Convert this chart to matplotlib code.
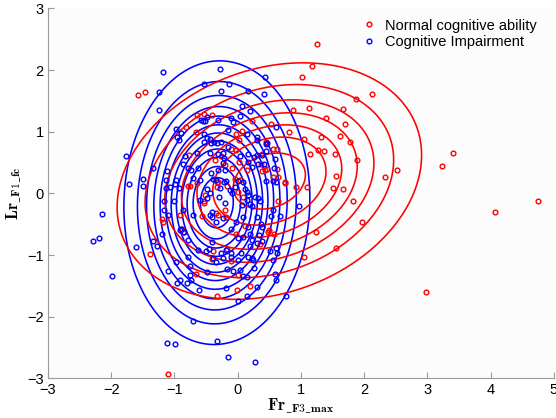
import numpy as np
import matplotlib
matplotlib.use("Agg")
import matplotlib.pyplot as plt

plt.rcParams["font.family"] = ["Liberation Sans", "DejaVu Sans"]
plt.rcParams["mathtext.fontset"] = "cm"

# scatter points
red_x = [-1.58, -1.46, 1.25, 1.17, 1.01, 2.13, 1.87, 1.66, 1.13, 0.87, 1.39, 1.70, 0.81, 1.32,
         1.62, 1.04, 1.77, 1.27, 1.36, 1.53, 1.15, 1.89, 3.41, 3.23, 2.52, 2.33, 1.55, 0.75,
         0.92, 1.10, 1.51, 1.67, 1.83, 4.74, 0.64, 0.64, 0.62, 4.06, 1.97, 1.24, 1.55, 1.04,
         2.98, 0.48, 0.57, 0.35, 0.11, -0.03, -0.17, -0.11, 0.00, 0.20, -0.01, -0.33, -0.31,
         -0.18, -0.20, -1.19, -1.18, -0.92, -0.87, -0.88, -1.38, -0.66, -0.56, -0.53, -0.34,
         -0.39, -0.41, -1.11, 0.23, 0.53, 0.06, -0.02, 0.02, -0.11, -0.03, 0.55, 0.38, -0.27,
         -0.20, 0.02, -0.09, -0.36, 0.38, 0.43, 0.46, 0.62, 0.55, 0.74, -0.05, 0.03, -0.17,
         -0.31, 0.00, 0.09, 0.36, -0.65, -0.54, -0.41, -0.82, -0.66, -0.77, -0.79, -0.75,
         -0.65, -0.51, -0.33, -0.32, -0.54, 0.50, 0.14, 0.45]
red_y = [1.60, 1.64, 2.43, 2.06, 1.89, 1.61, 1.53, 1.37, 1.39, 1.35, 1.23, 1.13, 1.00, 0.91,
         0.93, 0.89, 0.83, 0.71, 0.69, 0.64, 0.64, 0.55, 0.65, 0.45, 0.38, 0.26, 0.29, 0.18,
         0.11, 0.10, 0.09, 0.07, -0.13, -0.13, -0.13, 0.26, 0.72, -0.30, -0.46, -0.63, -0.88,
         -1.03, -1.60, -0.63, -0.66, -0.82, -0.52, -0.66, -0.90, -1.10, -1.32, -1.50, -1.57,
         -1.66, -0.35, -0.38, -0.27, -0.42, -0.47, -0.35, -0.63, -0.58, -0.98, -1.30, -0.37,
         -0.13, -0.32, -0.94, -1.06, -2.93, 1.17, 1.12, 1.01, 0.97, 0.87, 0.72, 0.70, 0.72,
         0.64, 0.60, 0.46, 0.51, 0.41, 0.54, 0.37, 0.38, 0.39, 0.40, 0.27, 0.17, 0.24, 0.22,
         0.12, 0.19, 0.03, -0.05, 0.48, 1.27, 1.28, 1.27, 1.08, 0.99, 0.62, 0.12, 0.12, 0.17,
         -0.03, 0.18, 0.11, -0.16, -0.60, 0.38, 0.83]

blue_x = [-1.18, -1.24, -1.25, -0.28, -0.26, -0.53, -0.14, 0.16, 0.43, 0.42, 0.19, 0.07, 0.04,
          -0.10, -0.07, -1.77, -1.72, -1.50, -1.49, -1.34, -0.97, -0.96, -0.54, -0.54, -0.48,
          -0.87, -0.74, -0.63, -0.71, -0.60, -0.42, -0.24, -0.23, -0.35, -0.22, -0.18, -0.48,
          -0.09, 0.00, 0.08, 0.27, -1.07, -1.13, -1.14, -0.98, -0.83, -0.65, -0.43, -0.37,
          -0.44, -0.15, 0.14, 0.30, 0.47, 0.38, 0.42, 0.22, 0.59, 0.55, 0.45, 0.60, -0.93,
          -0.90, -0.58, -0.55, -0.52, -0.48, -0.44, -0.78, -1.12, -0.99, -0.93, -0.44, -1.17,
          -1.00, -0.39, -2.15, -2.19, -2.29, -1.98, -1.61, -1.34, -1.28, -1.17, -1.11, -1.19,
          -0.87, -0.91, -0.78, -0.98, -1.10, -0.96, -0.91, -0.80, -0.75, -0.74, -0.75, -0.61,
          -0.48, -0.71, -1.12, -0.99, -0.33, -0.78, -0.63, -0.50, -0.45, -0.41, -0.39, 0.06,
          0.19, 0.22, 0.97, -0.02, 0.16, 0.36, 0.53, -0.11, 0.01, 0.23, 0.30, 0.38, 0.60, 0.62,
          -0.26, -0.10, 0.05, 0.16, 0.22, 0.24, -0.34, -0.17, -0.07, 0.25, 0.08, 0.59, -0.19,
          0.30, 0.14, 0.01, 0.76, -0.15, 0.27, 0.61, -0.31, -0.15, 0.31, -0.33, -0.26, 0.45,
          0.44, 0.16, 0.26, 0.31, 0.03, -0.31, -0.21, 0.16, 0.32, -0.20, -0.31, 0.57, -0.05,
          -0.28, 0.11, 0.15, 0.35, 0.32, -0.89, -0.85, -0.40, -0.34, -0.24, -0.44, -0.41,
          -0.18, -0.10, -0.23, 0.00, 0.03, 0.14, 0.61, 0.51, 0.56, 0.34, 0.08, 0.19, 0.08,
          0.30, 0.38, 0.56, 0.67, 0.14, 0.16, -0.60, -0.49, -0.71, 0.20, -0.30, -0.20, -0.12]
blue_y = [1.97, 1.64, 1.35, 2.02, 1.66, 1.77, 1.78, 1.66, 1.89, 1.61, 1.34, 1.41, 1.25, 1.22,
          1.16, 0.61, 0.15, 0.24, 0.12, 0.41, 1.04, 0.92, 0.97, 0.84, 0.90, 0.48, 0.38, 0.41,
          0.25, 0.22, 0.33, 0.65, 0.49, 0.22, 0.18, 0.20, 0.07, 0.00, 0.20, 0.18, -0.05, 0.11,
          0.22, 0.08, 0.22, 0.60, 0.65, 0.82, 0.84, 0.65, 0.76, 0.97, 0.92, 0.82, 0.62, 0.48,
          0.43, 0.56, 0.20, 0.20, 0.18, 0.87, 0.98, 1.19, 1.17, 1.17, 1.24, 0.89, 0.41, 0.37,
          0.15, 0.09, 0.01, -0.12, -0.13, 0.23, -0.33, -0.72, -0.77, -1.34, -0.87, -0.77,
          -0.86, -0.27, -0.35, -0.65, -0.27, -0.59, -0.75, -1.11, -1.25, -1.46, -1.40, -1.45,
          -1.33, -1.40, -1.17, -1.57, -1.28, -2.07, -2.43, -2.44, -2.40, -1.03, -0.92, -0.93,
          -0.90, -0.38, -1.05, -0.19, -0.17, -0.20, -0.20, -0.46, -0.54, -0.50, -0.36, -0.58,
          -0.73, -0.76, -0.81, -0.77, -0.89, -0.97, -0.97, -0.97, -0.97, -1.03, -1.05, -1.08,
          -1.11, -1.22, -1.25, -1.21, -1.34, -1.31, -1.53, -1.52, -1.66, -1.75, -1.66, -2.65,
          -2.74, 1.07, 1.19, 1.03, 0.87, 0.81, 0.84, 0.80, 0.68, 0.64, 0.59, 0.62, 0.60, 0.64,
          0.57, 0.51, 0.48, 0.38, 0.38, 0.41, 0.11, 0.08, 0.07, 0.03, -0.13, -0.08, -0.57,
          -0.62, -0.78, -0.46, -0.40, -0.35, -0.30, -0.91, -1.03, -1.05, -1.08, -1.24, -1.35,
          -1.40, -0.94, -1.08, -0.67, -0.70, -0.65, -0.38, -0.38, -0.54, -0.27, -0.37, -0.11,
          -0.03, -0.11, -0.08, -0.35, -0.86, -0.05, -0.15, 0.05]

# gaussian fits: mean x, mean y, std x, std y, correlation
red_fit = [0.50, 0.20, 1.18, 0.94, 0.22]
blue_fit = [-0.33, -0.15, 0.649, 1.015, 0.03]
# contour levels as fractions of each peak density
red_frac = [0.125, 0.25, 0.375, 0.5, 0.625, 0.75, 0.89]
blue_frac = [i / 13 for i in range(1, 13)]


def gauss_pdf(X, Y, fit):
    mx, my, sx, sy, r = fit
    dx = (X - mx) / sx
    dy = (Y - my) / sy
    q = (dx ** 2 - 2 * r * dx * dy + dy ** 2) / (1 - r ** 2)
    return np.exp(-q / 2)


gx = np.linspace(-3, 5, 600)
gy = np.linspace(-3, 3, 450)
X, Y = np.meshgrid(gx, gy)
Zr = gauss_pdf(X, Y, red_fit)
Zb = gauss_pdf(X, Y, blue_fit)

fig = plt.figure(figsize=(5.56, 4.18), dpi=100)
ax = fig.add_axes([0.0863, 0.0945, 0.9101, 0.8855])
ax.set_facecolor("#fbfcfb")

ax.contour(X, Y, Zb, levels=blue_frac, colors="#0000ff", linewidths=1.15, zorder=2)
ax.contour(X, Y, Zr, levels=red_frac, colors="#ff0000", linewidths=1.15, zorder=3)

ax.plot(red_x, red_y, "o", ms=3.4, mfc="none", mec="#ff0000", mew=1.0,
        label="Normal cognitive ability", zorder=4)
ax.plot(blue_x, blue_y, "o", ms=3.4, mfc="none", mec="#0000ff", mew=1.0,
        label="Cognitive Impairment", zorder=4)

ax.set_xlim(-3, 5)
ax.set_ylim(-3, 3)
ax.set_xticks(range(-3, 6))
ax.set_yticks(range(-3, 4))
for s in ["top", "right"]:
    ax.spines[s].set_visible(False)
for s in ["left", "bottom"]:
    ax.spines[s].set_color("#9a9a9a")
ax.tick_params(direction="in", length=4, color="#9a9a9a", labelsize=10.5, pad=3)

ax.set_xlabel(r"$\mathbf{Fr}_{\mathbf{\_F3\_max}}$", fontsize=12, labelpad=0)
ax.set_ylabel(r"$\mathbf{Lr}_{\mathbf{\_F1\_fc}}$", fontsize=12, labelpad=2)

ax.legend(loc="upper left", bbox_to_anchor=(0.60, 1.0), frameon=False, fontsize=10.5,
          numpoints=1, handlelength=1.0, handletextpad=0.6, labelspacing=0.15,
          borderpad=0.2)

fig.savefig("out.png", dpi=100)
